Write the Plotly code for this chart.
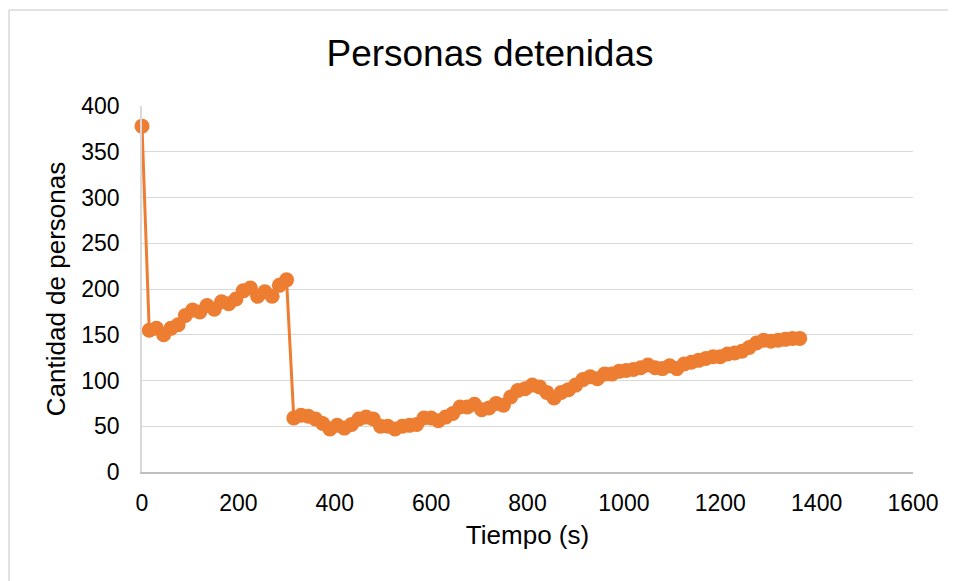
import plotly.graph_objects as go

# =====================================================
# Data
# =====================================================

STEP = 15

persons = [
    378, 155, 157, 150, 157, 161, 171, 177, 175, 182,
    178, 186, 184, 189, 198, 201, 192, 197, 192, 204,
    210, 59, 62, 61, 58, 53, 47, 51, 48, 52,
    58, 60, 58, 50, 50, 47, 50, 51, 52, 59,
    59, 56, 60, 64, 71, 71, 74, 68, 70, 75,
    73, 82, 89, 91, 95, 93, 87, 81, 87, 90,
    95, 101, 104, 102, 107, 107, 110, 111, 112, 114,
    117, 114, 113, 116, 113, 118, 120, 122, 124, 126,
    126, 129, 130, 132, 136, 141, 144, 143, 144, 145,
    146, 146,
]

time_s = [i * STEP for i in range(len(persons))]

x_ticks = [0, 200, 400, 600, 800, 1000, 1200, 1400, 1600]
y_ticks = [0, 50, 100, 150, 200, 250, 300, 350, 400]

ORANGE = "#ED7D31"
GRID = "#D9D9D9"
FONT = "Liberation Sans, Arial, sans-serif"

# page body adds an 8px margin, so the figure is sized to fit the window
W, H = 948, 573
L, R, T, B = 134, 43, 98, 109
PW, PH = W - L - R, H - T - B

# chart frame: only left and top edges fall inside the window
frame_left = (1 - L) / PW
frame_top = (H - B - 2) / PH

# =====================================================
# Figure
# =====================================================

fig = go.Figure()

fig.add_trace(
    go.Scatter(
        x=time_s,
        y=persons,
        mode="lines+markers",
        line=dict(color=ORANGE, width=3),
        marker=dict(color=ORANGE, size=15),
        cliponaxis=False,
        showlegend=False
    )
)

fig.update_layout(

    width=W,

    height=H,

    paper_bgcolor="white",

    plot_bgcolor="white",

    font=dict(
        family=FONT,
        color="#000000",
        size=23
    ),

    title=dict(
        text="Personas detenidas",
        x=482 / W,
        xref="container",
        xanchor="center",
        y=1 - 45.5 / H,
        yref="container",
        yanchor="middle",
        font=dict(size=37)
    ),

    margin=dict(
        l=L,
        r=R,
        t=T,
        b=B
    ),

    shapes=[
        dict(
            type="line",
            xref="paper",
            yref="paper",
            x0=frame_left,
            x1=frame_left,
            y0=-(B + 40) / PH,
            y1=frame_top,
            line=dict(color=GRID, width=1.5),
            layer="below"
        ),
        dict(
            type="line",
            xref="paper",
            yref="paper",
            x0=frame_left,
            x1=(W - L) / PW,
            y0=frame_top,
            y1=frame_top,
            line=dict(color=GRID, width=1.5),
            layer="below"
        )
    ]
)

fig.update_xaxes(
    range=[0, 1600],
    tickvals=x_ticks,
    showgrid=False,
    zeroline=False,
    showline=True,
    linecolor="#BFBFBF",
    linewidth=1.5,
    ticks="",
    ticklabelstandoff=10,
    title=dict(
        text="Tiempo (s)",
        font=dict(size=26),
        standoff=10
    )
)

fig.update_yaxes(
    range=[0, 400],
    tickvals=y_ticks,
    showgrid=True,
    gridcolor=GRID,
    gridwidth=1,
    zeroline=False,
    showline=True,
    linecolor=GRID,
    linewidth=1.5,
    ticks="",
    ticklabelstandoff=16,
    title=dict(
        text="Cantidad de personas",
        font=dict(size=26),
        standoff=8
    )
)

fig.write_html("out.html")
